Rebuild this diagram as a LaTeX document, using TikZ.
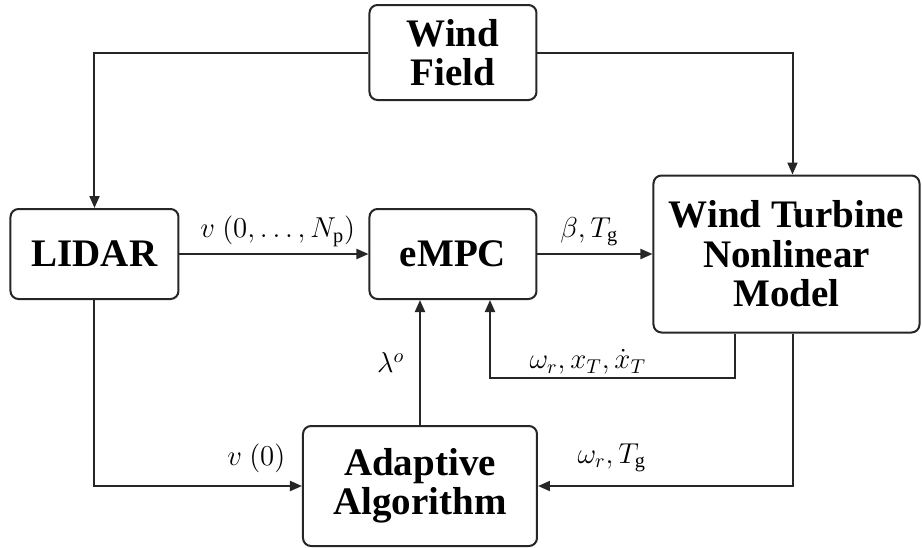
\documentclass[tikz,border=0pt]{standalone}
\usepackage{fontspec}
\setmainfont{Liberation Serif}
\usepackage{amsmath}
\usetikzlibrary{arrows.meta, positioning, calc}

\begin{document}
\begin{tikzpicture}[
    box/.style={draw=black!85, line width=1pt, rounded corners=4pt, align=center,
                font=\fontsize{19.5}{19.75}\selectfont\bfseries, inner sep=0pt},
    arr/.style={-{Triangle[length=6pt,width=5pt]}, line width=1pt, draw=black!85},
    lbl/.style={font=\fontsize{14.5}{16}\selectfont}
]
    \node[box, minimum width=83.5pt, minimum height=45pt] (empc) {eMPC};
    \node[box, minimum width=84pt, minimum height=45pt, left=94.5pt of empc] (lidar) {LIDAR};
    \node[box, minimum width=133pt, minimum height=78.5pt, right=57.5pt of empc] (wt) {Wind Turbine\\Nonlinear\\Model};
    \node[box, minimum width=83.5pt, minimum height=47.5pt, above=53.5pt of empc] (wf) {Wind\\Field};
    \node[box, minimum width=117pt, minimum height=60pt, below=62.5pt of empc, xshift=-16.5pt] (ada) {Adaptive\\Algorithm};

    % wind field to lidar and turbine
    \draw[arr] (wf.west) -| (lidar.north);
    \draw[arr] (wf.east) -| ([xshift=3pt]wt.north);

    % forward path
    \draw[arr] (lidar) -- node[lbl, above, pos=0.52]{$v\ (0,\ldots,N_\mathrm{p})$} (empc);
    \draw[arr] (empc) -- node[lbl, above, pos=0.45]{$\beta, T_\mathrm{g}$} (wt);

    % inputs of the adaptive algorithm
    \draw[arr] (lidar.south) |- node[lbl, pos=0.89, above=3pt]{$v\ (0)$} (ada.west);
    \draw[arr] ([xshift=3pt]wt.south) |- node[lbl, pos=0.855, above=3pt]{$\omega_r, T_\mathrm{g}$} (ada.east);
    \draw[arr] (ada.north) -- node[lbl, left=4pt]{$\lambda^o$} (ada.north |- empc.south);

    % state feedback
    \coordinate (fb) at ([xshift=-26pt, yshift=-22pt]wt.south);
    \draw[arr] ([xshift=-26pt]wt.south) -- (fb) -| node[lbl, pos=0.3, above, inner sep=1pt]{$\omega_r, x_T, \dot{x}_T$} ([xshift=18.5pt]empc.south);

    \useasboundingbox (-226.5pt,-146.5pt) rectangle (234.5pt,127pt);
\end{tikzpicture}
\end{document}
